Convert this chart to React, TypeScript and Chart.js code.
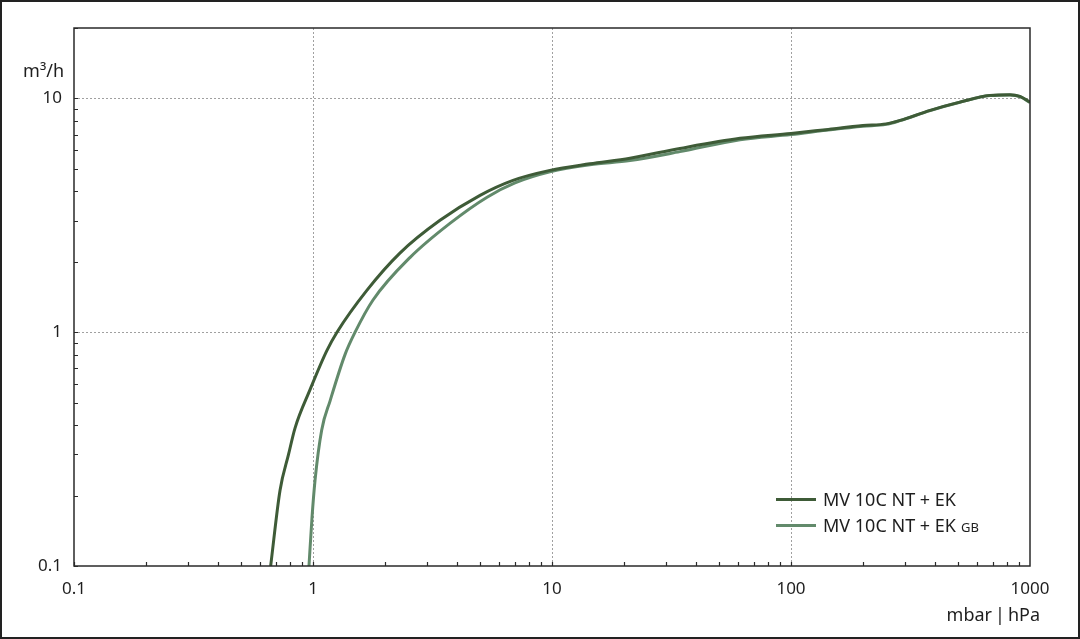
import { useEffect, useRef } from "react";
import { Chart, registerables, Plugin } from "chart.js";

Chart.register(...registerables);

// MV 10C NT + EK
const pressureA = [0.665, 0.728, 0.79, 0.841, 0.97, 1.14, 1.26, 1.68, 2.31, 3.4, 5.0, 6.87, 9.8, 14.4, 21.2, 34.3, 61.2, 100, 140, 200, 250, 286, 382, 509, 680, 825, 908, 1000];
const flowA = [0.1, 0.211, 0.3, 0.389, 0.565, 0.83, 1.0, 1.51, 2.18, 3.01, 3.85, 4.46, 4.92, 5.25, 5.55, 6.11, 6.75, 7.08, 7.35, 7.65, 7.78, 8.05, 8.89, 9.64, 10.3, 10.37, 10.2, 9.64];

// MV 10C NT + EK GB
const pressureB = [0.962, 0.99, 1.02, 1.087, 1.18, 1.36, 1.5, 1.78, 2.55, 3.74, 5.35, 7.0, 9.8, 14.4, 21.2, 34.3, 61.2, 100, 140, 200, 250, 286, 382, 509, 680, 825, 908, 1000];
const flowB = [0.1, 0.16, 0.233, 0.381, 0.51, 0.8, 1.0, 1.37, 2.09, 2.92, 3.78, 4.35, 4.85, 5.2, 5.42, 5.92, 6.66, 7.0, 7.3, 7.6, 7.74, 8.03, 8.87, 9.62, 10.28, 10.35, 10.18, 9.6];

const xTicks = [0.1, 1, 10, 100, 1000];
const yTicks = [0.1, 1, 10];

const seriesNames = ["MV 10C NT + EK", "MV 10C NT + EK"];
const seriesColors = ["#3e5b37", "#628a6b"];

const FONT = "'Noto Sans', sans-serif";
const TEXT = "#1e1e1e";

const framePlugin: Plugin = {
  id: "frameAndMinorTicks",
  afterDraw(chart) {
    const { ctx, chartArea, scales } = chart;
    const x = scales.x;
    const y = scales.y;
    ctx.save();
    ctx.strokeStyle = "#2a2a2a";
    ctx.lineWidth = 1.2;
    // minor ticks, pointing inward
    ctx.beginPath();
    for (let d = 0.1; d < 1000; d *= 10) {
      for (let m = 1; m < 10; m++) {
        const px = Math.round(x.getPixelForValue(d * m)) + 0.5;
        ctx.moveTo(px, chartArea.bottom);
        ctx.lineTo(px, chartArea.bottom - 4);
      }
    }
    for (let d = 0.1; d < 20; d *= 10) {
      for (let m = 1; m < 10; m++) {
        const v = d * m;
        if (v > 20) break;
        const py = Math.round(y.getPixelForValue(v)) + 0.5;
        ctx.moveTo(chartArea.left, py);
        ctx.lineTo(chartArea.left + 4, py);
      }
    }
    ctx.stroke();
    // plot frame
    ctx.lineWidth = 1.5;
    ctx.strokeRect(chartArea.left, chartArea.top, chartArea.right - chartArea.left, chartArea.bottom - chartArea.top);
    // outer frame
    ctx.strokeStyle = "#222";
    ctx.lineWidth = 2;
    ctx.strokeRect(1, 1, chart.width - 2, chart.height - 2);
    // axis titles
    ctx.fillStyle = TEXT;
    ctx.font = `18px ${FONT}`;
    ctx.textAlign = "right";
    ctx.textBaseline = "alphabetic";
    ctx.fillText("m³/h", 64, 77);
    ctx.fillText("mbar\u2009|\u2009hPa", 1040, 621);
    ctx.restore();
  },
};

export default function App() {
  const canvasRef = useRef<HTMLCanvasElement | null>(null);

  useEffect(() => {
    if (!canvasRef.current) return;
    const chart = new Chart(canvasRef.current, {
      type: "line",
      data: {
        datasets: [
          {
            label: seriesNames[0],
            data: pressureA.map((p, i) => ({ x: p, y: flowA[i] })),
            borderColor: seriesColors[0],
            borderWidth: 3,
            pointRadius: 0,
            cubicInterpolationMode: "monotone",
          },
          {
            label: seriesNames[1] + " GB",
            data: pressureB.map((p, i) => ({ x: p, y: flowB[i] })),
            borderColor: seriesColors[1],
            borderWidth: 3,
            pointRadius: 0,
            cubicInterpolationMode: "monotone",
          },
        ],
      },
      options: {
        animation: false,
        responsive: true,
        maintainAspectRatio: false,
        layout: { padding: { top: 28, right: 50, left: 0, bottom: 0 } },
        plugins: { legend: { display: false }, tooltip: { enabled: false } },
        scales: {
          x: {
            type: "logarithmic",
            min: 0.1,
            max: 1000,
            afterBuildTicks: (s: any) => {
              s.ticks = xTicks.map((v) => ({ value: v }));
            },
            afterFit: (s: any) => {
              s.height = 73;
            },
            ticks: {
              callback: (v: any) => String(v),
              font: { family: FONT, size: 17 },
              color: TEXT,
              padding: 13,
              maxRotation: 0,
              autoSkip: false,
            },
            grid: {
              drawTicks: false,
              lineWidth: 1,
              color: (c: any) => (c.tick && c.tick.value > 0.1 && c.tick.value < 1000 ? "#a0a0a0" : "transparent"),
            },
            border: { display: false, dash: [2, 2] },
          },
          y: {
            type: "logarithmic",
            min: 0.1,
            max: 20,
            afterBuildTicks: (s: any) => {
              s.ticks = yTicks.map((v) => ({ value: v }));
            },
            afterFit: (s: any) => {
              s.width = 74;
            },
            ticks: {
              callback: (v: any) => String(v),
              font: { family: FONT, size: 17 },
              color: TEXT,
              padding: 12,
              autoSkip: false,
            },
            grid: {
              drawTicks: false,
              lineWidth: 1,
              color: (c: any) => (c.tick && c.tick.value > 0.1 ? "#a0a0a0" : "transparent"),
            },
            border: { display: false, dash: [2, 2] },
          },
        },
      },
      plugins: [framePlugin],
    });
    return () => chart.destroy();
  }, []);

  return (
    <div style={{ position: "absolute", left: 0, top: 0, width: 1080, height: 639, background: "#fff" }}>
      <canvas ref={canvasRef}></canvas>
      <div style={{ position: "absolute", left: 776, top: 486, fontFamily: FONT, fontSize: 18, color: TEXT }}>
        {seriesNames.map((name, i) => (
          <div key={i} style={{ display: "flex", alignItems: "center", height: 26 }}>
            <div style={{ width: 40, height: 3, backgroundColor: seriesColors[i], marginRight: 7 }}></div>
            <span style={{ whiteSpace: "nowrap" }}>
              {name}
              {i === 1 && <span style={{ fontSize: 13, marginLeft: 5 }}>GB</span>}
            </span>
          </div>
        ))}
      </div>
    </div>
  );
}
